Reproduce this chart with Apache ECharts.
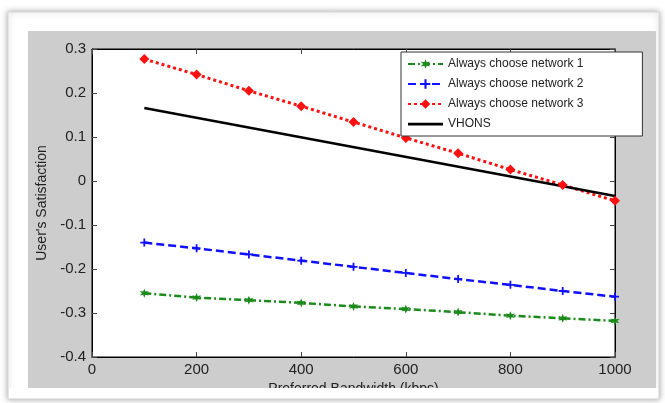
<!DOCTYPE html>
<html><head><meta charset="utf-8">
<script src="https://cdn.jsdelivr.net/npm/echarts@6/dist/echarts.min.js"></script>
<style>html,body{margin:0;padding:0;background:#fff}#c{width:665px;height:403px}</style>
</head><body><div id="c"></div>
<script>
const bandwidth = [100,200,300,400,500,600,700,800,900,1000];
const network1 = [-0.255,-0.265,-0.271,-0.277,-0.285,-0.291,-0.298,-0.306,-0.312,-0.318];
const network2 = [-0.140,-0.153,-0.167,-0.181,-0.195,-0.209,-0.223,-0.236,-0.250,-0.263];
const network3 = [0.277,0.242,0.205,0.170,0.134,0.098,0.063,0.026,-0.009,-0.045];
const vhonsX = [100,1000];
const vhons = [0.166,-0.034];
const seriesNames = ['Always choose network 1','Always choose network 2','Always choose network 3','VHONS'];
const xTicks = [0,200,400,600,800,1000];
const yTicks = [-0.4,-0.3,-0.2,-0.1,0,0.1,0.2,0.3];

const pair = (xs, ys) => xs.map((x,i)=>[x, ys[i]]);
const FONT = 'Liberation Sans, Arial, sans-serif';
const chart = echarts.init(document.getElementById('c'), null, {renderer:'canvas'});
const tickStyle = {show:true, inside:true, length:5, lineStyle:{color:'#444', width:1}};
const yFmt = v => { const r = Math.round(v*10)/10; return r === 0 ? '0' : String(r); };
const xFmt = v => String(Math.round(v));
const lineIcon = 'path://M0,0h0.01v0.01h-0.01zM0,4.8h35v2.6h-35zM0,11.99h0.01v0.01h-0.01z';
chart.setOption({
  animation:false,
  backgroundColor:'#ffffff',
  graphic:[
    {type:'rect', z:-10, shape:{x:8,y:12,width:651,height:387}, style:{fill:'#ffffff', stroke:'#d8d8d8', lineWidth:1, shadowBlur:6, shadowColor:'rgba(0,0,0,0.35)', shadowOffsetX:0, shadowOffsetY:0}},
    {type:'rect', z:-9, shape:{x:28,y:31,width:628,height:357}, style:{fill:'#cdcdcd'}},
    {type:'rect', z:100, shape:{x:9,y:388,width:649,height:10}, style:{fill:'#ffffff'}}
  ],
  grid:{left:92, right:50, top:49, bottom:46, show:true, backgroundColor:'#ffffff', borderColor:'#000', borderWidth:1},
  legend:{
    orient:'vertical', left:401, top:52,
    data:[seriesNames[0], seriesNames[1], seriesNames[2], {name:seriesNames[3], icon:lineIcon}],
    backgroundColor:'#ffffff', borderColor:'#333', borderWidth:1,
    padding:[6,59,6,6], itemWidth:35, itemHeight:12, itemGap:8,
    textStyle:{fontFamily:FONT, fontSize:12, color:'#222'}
  },
  xAxis:[
    {type:'value', min:0, max:1000, interval:200, position:'bottom',
     name:'Preferred Bandwidth (kbps)', nameLocation:'middle', nameGap:22,
     nameTextStyle:{fontFamily:FONT, fontSize:14, color:'#222'},
     axisLine:{show:true, onZero:false, lineStyle:{color:'#000'}}, axisTick:tickStyle,
     axisLabel:{fontFamily:FONT, fontSize:15, color:'#222', margin:5, formatter:xFmt}, splitLine:{show:false}},
    {type:'value', min:0, max:1000, interval:200, position:'top',
     axisLine:{show:true, onZero:false, lineStyle:{color:'#000'}}, axisTick:tickStyle,
     axisLabel:{show:false}, splitLine:{show:false}}
  ],
  yAxis:[
    {type:'value', min:-0.4, max:0.3, interval:0.1, position:'left',
     name:"User's Satisfaction", nameLocation:'middle', nameGap:43,
     nameTextStyle:{fontFamily:FONT, fontSize:14, color:'#222'},
     axisLine:{show:true, onZero:false, lineStyle:{color:'#000'}}, axisTick:tickStyle,
     axisLabel:{fontFamily:FONT, fontSize:15, color:'#222', margin:6, formatter:yFmt}, splitLine:{show:false}},
    {type:'value', min:-0.4, max:0.3, interval:0.1, position:'right',
     axisLine:{show:true, onZero:false, lineStyle:{color:'#000'}}, axisTick:tickStyle,
     axisLabel:{show:false}, splitLine:{show:false}}
  ],
  series:[
    {name:seriesNames[0], type:'line', data:pair(bandwidth, network1), color:'#1a8a1a',
     symbol:'path://M5,0L6.3,3.2L10,2.5L7.6,5L10,7.5L6.3,6.8L5,10L3.7,6.8L0,7.5L2.4,5L0,2.5L3.7,3.2Z', symbolSize:9,
     lineStyle:{width:2.5, type:[7,3,2,3], color:'#1a8a1a'}, itemStyle:{color:'#1a8a1a'}},
    {name:seriesNames[1], type:'line', data:pair(bandwidth, network2), color:'#1010ff',
     symbol:'path://M3.5,0h2v9h-2zM0,3.5h9v2h-9z', symbolSize:8,
     lineStyle:{width:2.5, type:[8,4], color:'#1010ff'}, itemStyle:{color:'#1010ff'}},
    {name:seriesNames[2], type:'line', data:pair(bandwidth, network3), color:'#ff1010',
     symbol:'diamond', symbolSize:10,
     lineStyle:{width:3, type:[3,3], color:'#ff1010'}, itemStyle:{color:'#ff1010'}},
    {name:seriesNames[3], type:'line', data:pair(vhonsX, vhons), color:'#000',
     symbol:'none', showSymbol:false,
     lineStyle:{width:2.5, type:'solid', color:'#000'}, itemStyle:{color:'#000'}}
  ]
});
</script></body></html>
